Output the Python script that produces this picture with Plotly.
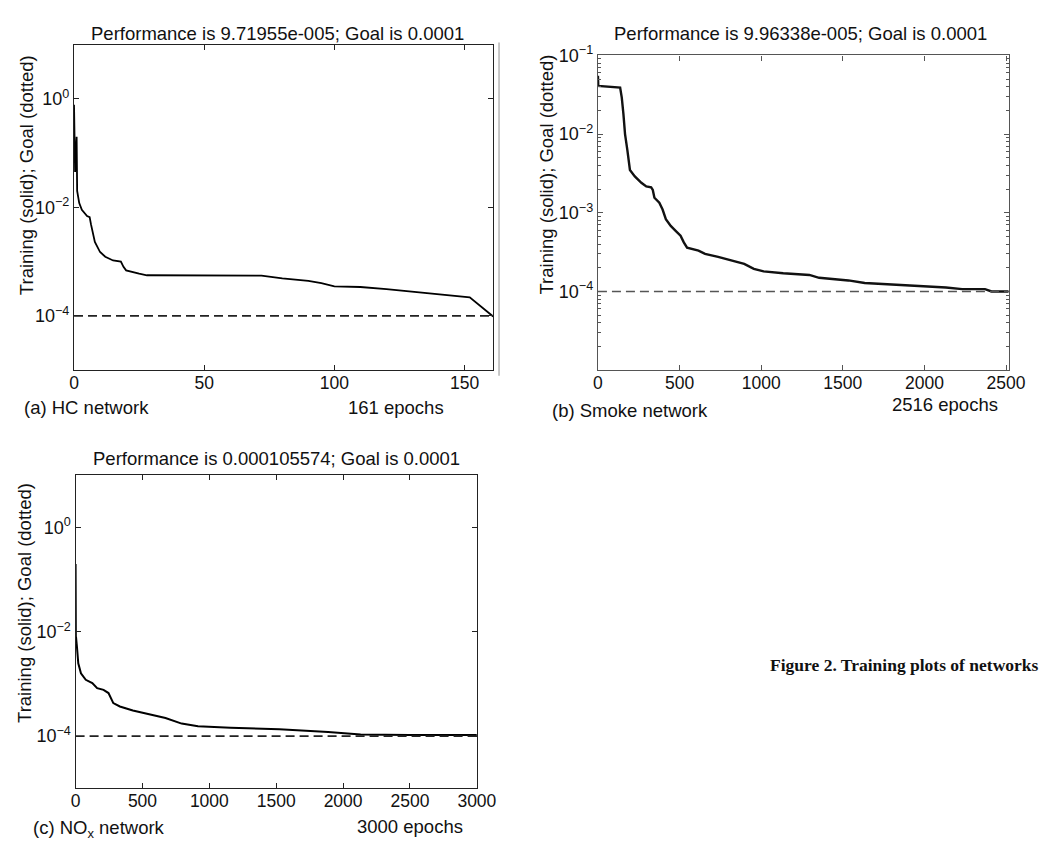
import math
import plotly.graph_objects as go

# ---- training records (epoch, performance) ----
hc_epoch = [0, 0.4, 1, 1.2, 2, 3, 5, 6, 6.5, 8, 10, 12, 15, 18, 19, 20, 25, 28,
            72, 80, 90, 95, 100, 110, 120, 130, 140, 150, 152, 161]
hc_perf = [0.78, 0.045, 0.2, 0.02, 0.012, 0.009, 0.0069, 0.0066, 0.0049, 0.0023,
           0.0015, 0.00123, 0.00105, 0.001, 0.0008, 0.00069, 0.0006, 0.00056,
           0.00055, 0.00049, 0.00044, 0.0004, 0.00035, 0.00034, 0.00031, 0.00028,
           0.00025, 0.00023, 0.00022, 9.71955e-5]

smoke_epoch = [0, 2, 136, 146, 156, 166, 180, 196, 226, 266, 296, 326, 336, 346,
               376, 396, 416, 446, 476, 506, 526, 546, 616, 656, 736, 816, 896,
               955, 1015, 1135, 1295, 1355, 1534, 1634, 1833, 2032, 2132, 2231,
               2371, 2411, 2516]
smoke_perf = [0.055, 0.041, 0.039, 0.029, 0.018, 0.010, 0.0063, 0.0035, 0.0029,
              0.0024, 0.00216, 0.0021, 0.00195, 0.00155, 0.00134, 0.0011, 0.00083,
              0.00068, 0.00059, 0.00051, 0.00042, 0.00036, 0.00033, 0.0003,
              0.000275, 0.000247, 0.000224, 0.000194, 0.00018, 0.00017, 0.000162,
              0.000149, 0.000138, 0.000128, 0.000122, 0.000115, 0.000112,
              0.000107, 0.000107, 0.0001, 9.96338e-5]

nox_epoch = [0, 1, 2, 3, 10, 20, 40, 76, 125, 161, 209, 246, 282, 331, 428, 550,
             672, 793, 915, 1158, 1523, 1888, 2131, 2496, 3000]
nox_perf = [0.2, 0.022, 0.006, 0.008, 0.0052, 0.0025, 0.0016, 0.0012, 0.00104,
            0.00083, 0.00077, 0.00067, 0.00043, 0.00037, 0.00031, 0.00026,
            0.000223, 0.000174, 0.000155, 0.000145, 0.000135, 0.00012, 0.000107,
            0.000105, 0.000105574]

goal = 1e-4

titles = ["Performance is 9.71955e-005; Goal is 0.0001",
          "Performance is 9.96338e-005; Goal is 0.0001",
          "Performance is 0.000105574; Goal is 0.0001"]
ylabel = "Training (solid); Goal (dotted)"
captions = ["(a) HC network", "(b) Smoke network", "(c) NO<sub>x</sub> network"]
epoch_notes = ["161 epochs", "2516 epochs", "3000 epochs"]
figure_caption = "Figure 2. Training plots of networks"

W, H = 1057, 843
FONT = "Liberation Sans, Arial, sans-serif"


def px(x):
    return x / W


def py(y):
    return 1 - y / H


fig = go.Figure()

panels = [
    dict(x=hc_epoch, y=hc_perf, xmax=161, yr=[-5, 1],
         xdom=[70.7, 500], ydom=[363.3, 33], xt=[0, 50, 100, 150],
         yt=[1, 1e-2, 1e-4], color="black", axc="#222", goalc="#222", lw=1.8),
    dict(x=smoke_epoch, y=smoke_perf, xmax=2516, yr=[-5, -1],
         xdom=[607.3, 1028], ydom=[363.3, 44], xt=[0, 500, 1000, 1500, 2000, 2500],
         yt=[1e-1, 1e-2, 1e-3, 1e-4], color="#111", axc="#555", goalc="#555", lw=2.4),
    dict(x=nox_epoch, y=nox_perf, xmax=3000, yr=[-5, 1],
         xdom=[72.3, 483.3], ydom=[787.5, 470], xt=[0, 500, 1000, 1500, 2000, 2500, 3000],
         yt=[1, 1e-2, 1e-4], color="black", axc="#222", goalc="#222", lw=2.0),
]


def sup(v):
    e = int(round(math.log10(v)))
    s = str(e).replace("-", "\u2212")
    return f"10<sup>{s}</sup>"


for i, p in enumerate(panels, start=1):
    xa = "x" if i == 1 else f"x{i}"
    ya = "y" if i == 1 else f"y{i}"
    fig.add_trace(go.Scatter(x=p["x"], y=p["y"], mode="lines", xaxis=xa, yaxis=ya,
                             line=dict(color=p["color"], width=p["lw"]),
                             showlegend=False))
    fig.add_trace(go.Scatter(x=[0, p["xmax"]], y=[goal, goal], mode="lines",
                             xaxis=xa, yaxis=ya,
                             line=dict(color=p["goalc"], width=1.6, dash="9px,5px"),
                             showlegend=False))
    xkey = "xaxis" if i == 1 else f"xaxis{i}"
    ykey = "yaxis" if i == 1 else f"yaxis{i}"
    xaxis = dict(domain=[px(p["xdom"][0]), px(p["xdom"][1])], anchor=ya,
                 range=[0, p["xmax"]], tickvals=p["xt"],
                 ticks="inside", ticklen=5, tickcolor=p["axc"], showline=True,
                 linecolor=p["axc"], linewidth=1.3, mirror="ticks",
                 showgrid=False, zeroline=False, ticklabelstandoff=-3,
                 tickfont=dict(family=FONT, size=17.5, color="#111"))
    yminor = {}
    if i == 2:
        mv = []
        for d in [1e-5, 1e-4, 1e-3, 1e-2]:
            mv += [k * d for k in range(2, 10)]
        yminor = dict(minor=dict(tickvals=mv, ticks="inside", ticklen=3,
                                 tickcolor=p["axc"], showgrid=False))
    yaxis = dict(domain=[py(p["ydom"][0]), py(p["ydom"][1])], anchor=xa, type="log",
                 range=p["yr"], tickvals=p["yt"], ticktext=[sup(v) for v in p["yt"]],
                 ticks="inside", ticklen=5, tickcolor=p["axc"], showline=True,
                 linecolor=p["axc"], linewidth=1.3, mirror="ticks",
                 showgrid=False, zeroline=False,
                 tickfont=dict(family=FONT, size=18, color="#111"), **yminor)
    fig.update_layout(**{xkey: xaxis, ykey: yaxis})

ann = []


def text(t, x, y, xanchor="center", size=18.5, angle=0, family=FONT, color="#111"):
    ann.append(dict(text=t, x=px(x), y=py(y), xref="paper", yref="paper",
                    xanchor=xanchor, yanchor="middle", showarrow=False,
                    textangle=angle, font=dict(family=family, size=size, color=color)))


# panel titles
text(titles[0], 279, 22)
text(titles[1], 815, 22)
text(titles[2], 278, 453)
# vertical axis labels
text(ylabel, 22, 165, angle=-90)
text(ylabel, 555, 165, angle=-90)
text(ylabel, 20, 600, angle=-90)
# panel captions and epoch counts
text(captions[0], 17, 401, xanchor="left")
text(epoch_notes[0], 400, 401)
text(captions[1], 558, 404, xanchor="left")
text(epoch_notes[1], 963, 398)
text(captions[2], 27, 829, xanchor="left")
text(epoch_notes[2], 415, 826)
# figure caption
text("<b>" + figure_caption + "</b>", 921, 662, size=17.5,
     family="Liberation Serif, Times New Roman, serif", color="#111")

fig.update_layout(
    width=W, height=H, margin=dict(l=0, r=0, t=0, b=0),
    paper_bgcolor="white", plot_bgcolor="white",
    annotations=ann,
    shapes=[dict(type="line", xref="paper", yref="paper",
                 x0=px(506), x1=px(506), y0=py(31), y1=py(369),
                 line=dict(color="#b5b5b5", width=1.5))],
)

fig.write_html("out.html")
